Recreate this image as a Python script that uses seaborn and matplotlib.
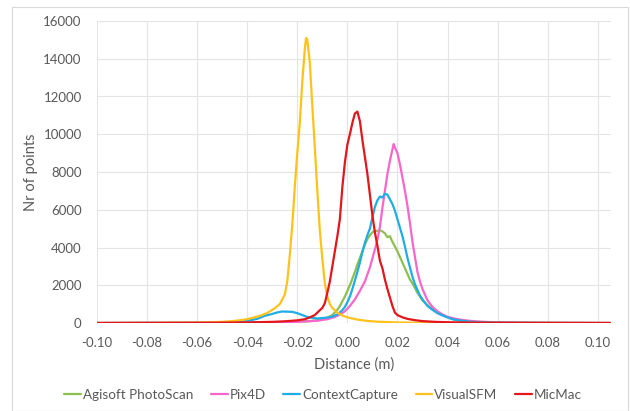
import numpy as np
import pandas as pd
import matplotlib
matplotlib.use("Agg")
import matplotlib.pyplot as plt
import seaborn as sns
from matplotlib.patches import Rectangle

series_names = ["Agisoft PhotoScan", "Pix4D", "ContextCapture", "VisualSFM", "MicMac"]
colors = ["#8DBF4E", "#F766CC", "#1EADE6", "#FFC21C", "#E3161C"]

# Agisoft PhotoScan
agisoft_x = [-0.100, -0.050, -0.030, -0.020, -0.015, -0.012, -0.010, -0.008, -0.006, -0.004,
             -0.003, -0.002, -0.001, 0.000, 0.001, 0.002, 0.003, 0.004, 0.005, 0.006,
             0.007, 0.008, 0.009, 0.010, 0.011, 0.012, 0.013, 0.014, 0.015, 0.016,
             0.017, 0.018, 0.019, 0.020, 0.021, 0.022, 0.023, 0.024, 0.025, 0.026,
             0.027, 0.028, 0.030, 0.032, 0.034, 0.036, 0.038, 0.040, 0.043, 0.046,
             0.050, 0.060, 0.080, 0.105]
agisoft_y = [0, 10, 30, 60, 100, 150, 200, 280, 420, 700,
             900, 1150, 1400, 1700, 2000, 2350, 2700, 3100, 3450, 3800,
             4150, 4450, 4650, 4800, 4900, 4870, 4920, 4850, 4750, 4550,
             4600, 4300, 4050, 3800, 3500, 3200, 2900, 2600, 2300, 2100,
             1850, 1600, 1200, 950, 720, 550, 420, 300, 170, 90,
             50, 15, 5, 0]

# Pix4D
pix4d_x = [-0.100, -0.040, -0.020, -0.012, -0.008, -0.005, -0.003, -0.001, 0.001, 0.003,
           0.005, 0.007, 0.009, 0.011, 0.012, 0.013, 0.014, 0.015, 0.016, 0.017,
           0.018, 0.0185, 0.019, 0.020, 0.021, 0.022, 0.023, 0.024, 0.025, 0.026,
           0.027, 0.028, 0.029, 0.030, 0.032, 0.034, 0.036, 0.038, 0.040, 0.043,
           0.046, 0.050, 0.055, 0.060, 0.070, 0.080, 0.105]
pix4d_y = [0, 20, 60, 120, 200, 320, 450, 620, 900, 1250,
           1700, 2200, 2950, 3900, 4400, 5100, 6100, 7000, 7900, 8600,
           9200, 9480, 9300, 9000, 8400, 7700, 7000, 6200, 5300, 4300,
           3500, 2700, 2200, 1800, 1200, 850, 620, 450, 330, 230,
           160, 100, 60, 35, 15, 8, 0]

# ContextCapture
context_x = [-0.100, -0.060, -0.045, -0.040, -0.036, -0.033, -0.030, -0.028, -0.026, -0.024,
             -0.022, -0.020, -0.018, -0.016, -0.014, -0.012, -0.010, -0.008, -0.006, -0.004,
             -0.002, -0.001, 0.000, 0.001, 0.002, 0.003, 0.004, 0.005, 0.006, 0.007,
             0.008, 0.009, 0.010, 0.011, 0.012, 0.013, 0.014, 0.015, 0.016, 0.017,
             0.018, 0.019, 0.020, 0.021, 0.022, 0.023, 0.024, 0.025, 0.026, 0.027,
             0.028, 0.029, 0.030, 0.032, 0.034, 0.036, 0.038, 0.040, 0.042, 0.045,
             0.050, 0.060, 0.080, 0.105]
context_y = [0, 10, 50, 110, 220, 380, 480, 560, 610, 600,
             590, 520, 420, 320, 270, 240, 260, 290, 340, 450,
             680, 850, 1100, 1400, 1800, 2250, 2700, 3200, 3750, 4250,
             4650, 5000, 5600, 6150, 6500, 6700, 6650, 6850, 6800, 6550,
             6300, 5950, 5500, 5050, 4600, 4050, 3450, 2950, 2450, 2050,
             1750, 1450, 1250, 900, 700, 520, 400, 300, 200, 130,
             60, 20, 5, 0]

# VisualSFM
visual_x = [-0.100, -0.080, -0.060, -0.050, -0.045, -0.040, -0.035, -0.032, -0.029, -0.027,
            -0.025, -0.024, -0.023, -0.022, -0.021, -0.020, -0.019, -0.018, -0.017, -0.0165,
            -0.016, -0.015, -0.014, -0.013, -0.012, -0.011, -0.010, -0.009, -0.008, -0.007,
            -0.006, -0.004, -0.002, 0.000, 0.004, 0.008, 0.012, 0.020, 0.030, 0.040,
            0.105]
visual_y = [0, 5, 20, 60, 110, 200, 380, 530, 780, 1000,
            1500, 2200, 3600, 5200, 7200, 9000, 10600, 12800, 14500, 15100,
            15000, 13800, 11500, 9300, 7000, 4900, 3400, 2100, 1400, 1000,
            800, 550, 400, 300, 180, 110, 70, 30, 10, 0,
            0]

# MicMac
micmac_x = [-0.100, -0.060, -0.040, -0.030, -0.025, -0.020, -0.017, -0.015, -0.013, -0.011,
            -0.010, -0.009, -0.008, -0.007, -0.006, -0.005, -0.004, -0.003, -0.002, -0.001,
            0.000, 0.001, 0.002, 0.003, 0.004, 0.005, 0.006, 0.007, 0.008, 0.009,
            0.010, 0.011, 0.012, 0.013, 0.014, 0.015, 0.016, 0.017, 0.018, 0.019,
            0.020, 0.022, 0.024, 0.027, 0.030, 0.035, 0.040, 0.050, 0.070, 0.105]
micmac_y = [0, 10, 30, 60, 90, 140, 200, 300, 420, 680,
            800, 1050, 1600, 2200, 3000, 3800, 4600, 5500, 7200, 8500,
            9450, 10000, 10600, 11100, 11200, 10700, 9700, 8800, 7900, 6800,
            5700, 4800, 4100, 3300, 2900, 2300, 1800, 1350, 900, 550,
            420, 300, 220, 150, 100, 60, 40, 20, 10, 0]

x_ticks = [-0.10, -0.08, -0.06, -0.04, -0.02, 0.00, 0.02, 0.04, 0.06, 0.08, 0.10]
y_ticks = [0, 2000, 4000, 6000, 8000, 10000, 12000, 14000, 16000]

frames = []
for name, xs, ys in zip(series_names,
                        [agisoft_x, pix4d_x, context_x, visual_x, micmac_x],
                        [agisoft_y, pix4d_y, context_y, visual_y, micmac_y]):
    frames.append(pd.DataFrame({"x": xs, "y": ys, "series": name}))
df = pd.concat(frames, ignore_index=True)

sns.set_theme(style="whitegrid")
plt.rcParams["font.family"] = ["Lato", "DejaVu Sans"]
text_color = "#595959"

fig = plt.figure(figsize=(6.3, 4.11), dpi=100)
ax = fig.add_axes([97 / 630, 1 - 323 / 411, (611 - 97) / 630, (323 - 21) / 411])

sns.lineplot(data=df, x="x", y="y", hue="series", hue_order=series_names,
             palette=colors, estimator=None, sort=True, linewidth=1.6, ax=ax,
             legend=True)

ax.set_xlim(-0.1, 0.1053)
ax.set_ylim(0, 16000)
ax.set_xticks(x_ticks)
ax.set_xticklabels([f"{t:.2f}" for t in x_ticks])
ax.set_yticks(y_ticks)
ax.set_yticklabels([str(t) for t in y_ticks])
ax.tick_params(axis="both", length=0, labelsize=9.5, colors=text_color)
ax.tick_params(axis="y", pad=11)
ax.tick_params(axis="x", pad=10)
ax.grid(True, color="#E4E4E4", linewidth=0.8)
for s in ax.spines.values():
    s.set_visible(False)
ax.set_facecolor("white")

ax.set_xlabel("Distance (m)", fontsize=10.5, color=text_color, labelpad=6)
ax.set_ylabel("Nr of points", fontsize=10.5, color=text_color, labelpad=4)

handles, labels = ax.get_legend_handles_labels()
ax.get_legend().remove()
fig.legend(handles, labels, loc="center", bbox_to_anchor=(323 / 630, 1 - 395 / 411),
           ncol=5, frameon=False, fontsize=9.7, handlelength=1.25, handletextpad=0.15,
           columnspacing=1.3, labelcolor=text_color)

fig.patches.append(Rectangle((12 / 630, 0.5 / 411), (628 - 12) / 630, (404 - 0.5) / 411,
                             transform=fig.transFigure, fill=False,
                             edgecolor="#D9D9D9", linewidth=0.8))

fig.savefig("out.png", dpi=100)
